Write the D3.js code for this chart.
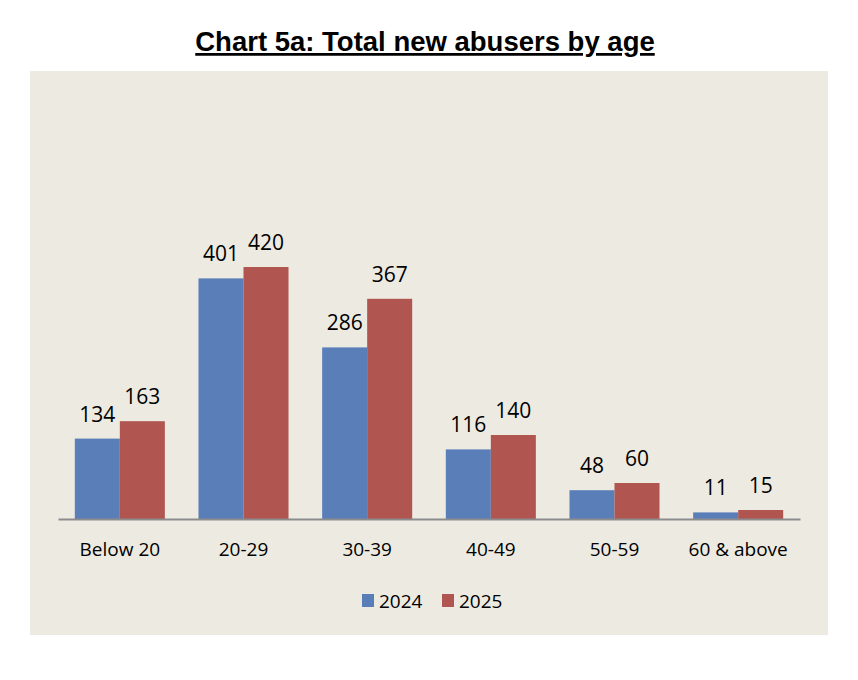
<!DOCTYPE html>
<html lang="en">
<head>
<meta charset="utf-8"/>
<script src="https://d3js.org/d3.v7.min.js"></script>
<style>
  body { margin: 0; background: #fff; }
</style>
</head>
<body>
<svg id="chart"></svg>
<script>
const categories = ["Below 20", "20-29", "30-39", "40-49", "50-59", "60 & above"];
const seriesNames = ["2024", "2025"];
const values2024 = [134, 401, 286, 116, 48, 11];
const values2025 = [163, 420, 367, 140, 60, 15];
const colors = ["#5a7fb8", "#b0554f"];

const width = 858, height = 680;
const svg = d3.select("#chart").attr("width", width).attr("height", height);

// panel background
svg.append("rect")
  .attr("x", 30).attr("y", 71).attr("width", 798).attr("height", 564)
  .attr("fill", "#edeae2");

// title
svg.append("text")
  .attr("x", 425).attr("y", 51)
  .attr("text-anchor", "middle")
  .attr("font-family", "Liberation Sans, Arial, sans-serif")
  .attr("font-weight", "bold")
  .attr("font-size", "27.5px")
  .attr("text-decoration", "underline")
  .text("Chart 5a: Total new abusers by age");

const x0 = d3.scaleBand().domain(categories).range([58, 800]).paddingInner(0.272).paddingOuter(0.136);
const x1 = d3.scaleBand().domain(seriesNames).range([0, x0.bandwidth()]);
const y = d3.scaleLinear().domain([0, 500]).range([519, 219]);

const rows = categories.map((c, i) => ({ cat: c, vals: [values2024[i], values2025[i]] }));

const groups = svg.selectAll("g.grp")
  .data(rows)
  .enter()
  .append("g")
    .attr("class", "grp")
    .attr("transform", d => "translate(" + x0(d.cat) + ",0)");

groups.selectAll("rect")
  .data(d => d.vals.map((v, j) => ({ key: seriesNames[j], v: v, j: j })))
  .enter()
  .append("rect")
    .attr("x", d => x1(d.key))
    .attr("y", d => y(d.v))
    .attr("width", x1.bandwidth())
    .attr("height", d => y(0) - y(d.v))
    .attr("fill", d => colors[d.j]);

groups.selectAll("text.val")
  .data(d => d.vals.map((v, j) => ({ key: seriesNames[j], v: v })))
  .enter()
  .append("text")
    .attr("class", "val")
    .attr("x", d => x1(d.key) + x1.bandwidth() / 2)
    .attr("y", d => y(d.v) - 17)
    .attr("text-anchor", "middle")
    .attr("font-family", "Open Sans, sans-serif")
    .attr("font-size", "21px")
    .attr("fill", "#000")
    .text(d => d.v);

// x axis
const xAxis = svg.append("g")
  .attr("transform", "translate(0," + y(0) + ")")
  .call(d3.axisBottom(x0).tickSize(0).tickPadding(24));
xAxis.select(".domain").attr("stroke", "#8c8c8c").attr("stroke-width", 2);
xAxis.selectAll("text")
  .attr("font-family", "Open Sans, sans-serif")
  .attr("font-size", "19px")
  .attr("fill", "#000");

// legend
const legend = svg.selectAll("g.leg")
  .data(seriesNames)
  .enter()
  .append("g")
    .attr("class", "leg")
    .attr("transform", (d, i) => "translate(" + (362 + i * 80) + ",594)");
legend.append("rect")
  .attr("width", 12).attr("height", 13)
  .attr("fill", (d, i) => colors[i]);
legend.append("text")
  .attr("x", 17).attr("y", 14)
  .attr("font-family", "Open Sans, sans-serif")
  .attr("font-size", "19px")
  .text(d => d);
</script>
</body>
</html>
